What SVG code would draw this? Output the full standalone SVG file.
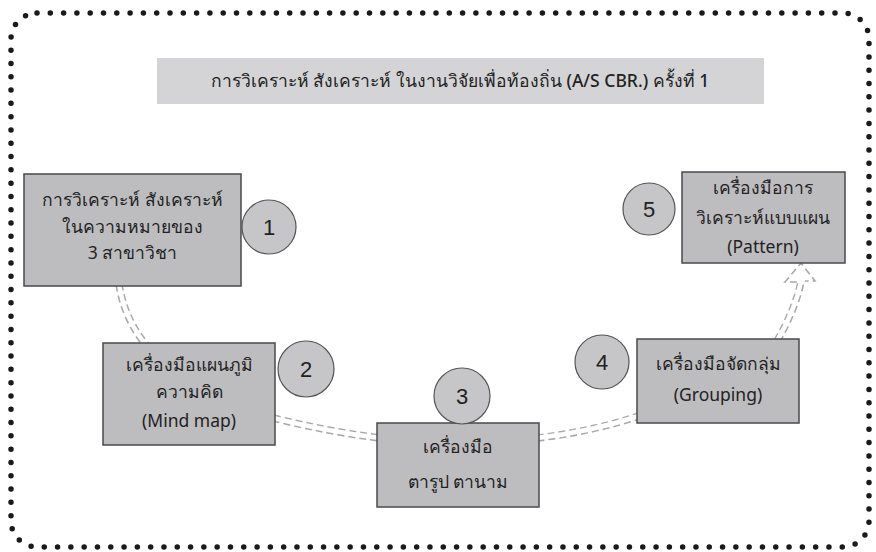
<svg xmlns="http://www.w3.org/2000/svg" width="876" height="552" viewBox="0 0 876 552">
<style>
.box{fill:#bdbdc0;stroke:#4a4a4c;stroke-width:1.5}
.num{fill:#c6c6c9;stroke:#555;stroke-width:1.2}
.t{font-family:"Noto Sans","DejaVu Sans",sans-serif;font-size:17.5px;fill:#222;text-anchor:middle}
.n{font-family:"Liberation Sans",Arial,sans-serif;font-size:22px;fill:#222;text-anchor:middle}
.cg{fill:none;stroke:#a9a9a9;stroke-width:7.5;stroke-dasharray:7 4}
.cw{fill:none;stroke:#ffffff;stroke-width:4.5}
.ch{fill:none;stroke:#a9a9a9;stroke-width:1.6;stroke-dasharray:7 4}
</style>
<rect x="11" y="13" width="858" height="534" rx="26" fill="none" stroke="#1a1a1a" stroke-width="5.5" stroke-linecap="round" stroke-dasharray="0 13.3"/>
<g id="title">
<rect x="157" y="58" width="607" height="46" fill="#d4d4d6"/>
<text class="t" x="460" y="87" font-size="16.5" font-weight="500" fill="#333">การวิเคราะห์ สังเคราะห์ ในงานวิจัยเพื่อท้องถิ่น (A/S CBR.) ครั้งที่ 1</text>
</g>
<g id="connectors">
<path class="cg" d="M119,284 Q124,318 146,345"/>
<path class="cw" d="M119,284 Q124,318 146,345"/>
<path class="cg" d="M273,418 Q330,432 380,438"/>
<path class="cw" d="M273,418 Q330,432 380,438"/>
<path class="cg" d="M537,438 Q590,432 639,416"/>
<path class="cw" d="M537,438 Q590,432 639,416"/>
<path class="cg" d="M777,341 Q795,310 801,282"/>
<path class="cw" d="M777,341 Q795,310 801,282"/>
<path class="ch" d="M797,282 L785,282 L801,263 L815,281 L805,281"/>
</g>
<g id="node1">
<rect class="box" x="24" y="174" width="217" height="112"/>
<text class="t" x="132.5" y="206">การวิเคราะห์ สังเคราะห์</text>
<text class="t" x="132.5" y="233">ในความหมายของ</text>
<text class="t" x="132.5" y="259">3 สาขาวิชา</text>
</g>
<g id="badge1"><circle class="num" cx="269" cy="227" r="27"/><text class="n" x="269" y="235">1</text></g>
<g id="node2">
<rect class="box" x="103" y="343" width="172" height="102"/>
<text class="t" x="189" y="371">เครื่องมือแผนภูมิ</text>
<text class="t" x="189" y="398">ความคิด</text>
<text class="t" x="189" y="427">(Mind map)</text>
</g>
<g id="badge2"><circle class="num" cx="306" cy="369" r="28"/><text class="n" x="306" y="377">2</text></g>
<g id="node3">
<rect class="box" x="377" y="423" width="162" height="84"/>
<text class="t" x="458" y="453">เครื่องมือ</text>
<text class="t" x="458" y="488">ตารูป ตานาม</text>
</g>
<g id="badge3"><circle class="num" cx="462" cy="396" r="28"/><text class="n" x="462" y="404">3</text></g>
<g id="node4">
<rect class="box" x="637" y="339" width="162" height="84"/>
<text class="t" x="718" y="370">เครื่องมือจัดกลุ่ม</text>
<text class="t" x="718" y="401">(Grouping)</text>
</g>
<g id="badge4"><circle class="num" cx="602" cy="362" r="27"/><text class="n" x="602" y="370">4</text></g>
<g id="node5">
<rect class="box" x="682" y="172" width="163" height="91"/>
<text class="t" x="763" y="194">เครื่องมือการ</text>
<text class="t" x="763" y="224">วิเคราะห์แบบแผน</text>
<text class="t" x="763" y="253">(Pattern)</text>
</g>
<g id="badge5"><circle class="num" cx="649" cy="209" r="26"/><text class="n" x="649" y="217">5</text></g>
</svg>
